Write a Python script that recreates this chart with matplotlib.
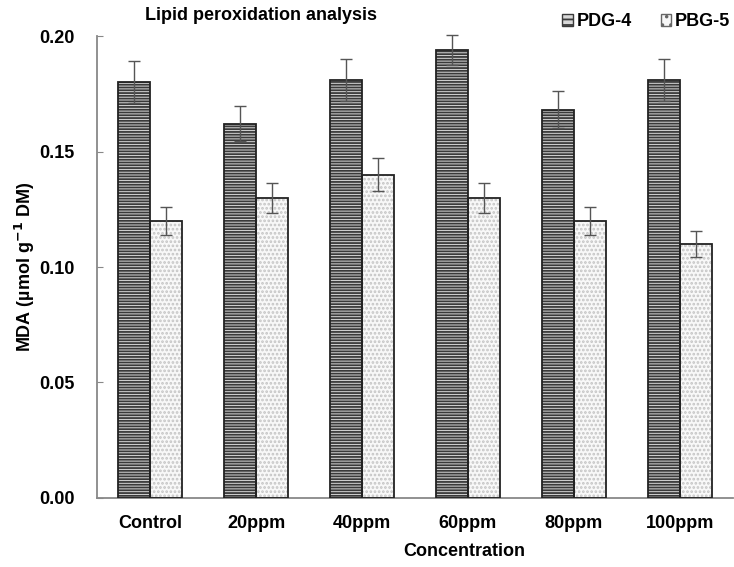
import matplotlib

matplotlib.use("Agg")
import matplotlib.pyplot as plt
import numpy as np
from matplotlib.patches import Patch

plt.rcParams["font.family"] = ["Liberation Sans", "DejaVu Sans"]
plt.rcParams["font.weight"] = "bold"
plt.rcParams["hatch.linewidth"] = 1.3

categories = ["Control", "20ppm", "40ppm", "60ppm", "80ppm", "100ppm"]
pdg4 = [0.180, 0.162, 0.181, 0.194, 0.168, 0.181]
pdg4_err = [0.009, 0.0075, 0.009, 0.0065, 0.008, 0.009]
pbg5 = [0.120, 0.130, 0.140, 0.130, 0.120, 0.110]
pbg5_err = [0.006, 0.0065, 0.007, 0.0065, 0.006, 0.0055]
yticks = [0.00, 0.05, 0.10, 0.15, 0.20]

fig = plt.figure(figsize=(7.34, 5.67), dpi=100)
ax = fig.add_axes([0.1322, 0.1217, 0.8664, 0.8148])

x = np.arange(len(categories))
w = 0.3
# PDG-4: dense horizontal stripes
ax.bar(x - w / 2, pdg4, w, facecolor="#d8d8d8", edgecolor="#3a3a3a", hatch="------",
       linewidth=0, zorder=2)
ax.bar(x - w / 2, pdg4, w, facecolor="none", edgecolor="#222222", linewidth=1.3, zorder=3)
# PBG-5: light dotted fill
ax.bar(x + w / 2, pbg5, w, facecolor="#f8f8f8", edgecolor="#c4c4c4", hatch="....",
       linewidth=0, zorder=2)
ax.bar(x + w / 2, pbg5, w, facecolor="none", edgecolor="#222222", linewidth=1.3, zorder=3)

ax.errorbar(x - w / 2, pdg4, yerr=pdg4_err, fmt="none", ecolor="#555555", elinewidth=1.0,
            capsize=4, capthick=1.0, zorder=4, clip_on=False)
ax.errorbar(x + w / 2, pbg5, yerr=pbg5_err, fmt="none", ecolor="#555555", elinewidth=1.0,
            capsize=4, capthick=1.0, zorder=4, clip_on=False)

ax.set_xlim(-0.5, len(categories) - 0.5)
ax.set_ylim(0, 0.20)
ax.set_yticks(yticks)
ax.set_yticklabels([f"{v:.2f}" for v in yticks], fontsize=13, fontweight="bold")
ax.set_xticks(x)
ax.set_xticklabels(categories, fontsize=13, fontweight="bold")
ax.tick_params(axis="x", length=0, pad=12)
ax.tick_params(axis="y", direction="in", length=4, color="#888888", pad=16)
for s in ["top", "right"]:
    ax.spines[s].set_visible(False)
for s in ["left", "bottom"]:
    ax.spines[s].set_color("#888888")
    ax.spines[s].set_linewidth(1.3)

ax.set_ylabel("MDA (µmol g$^{\\mathbf{-1}}$ DM)", fontsize=13, fontweight="bold", labelpad=1.5)
fig.text(464 / 734, 1 - 552 / 567, "Concentration", fontsize=13, fontweight="bold",
         ha="center", va="center")
fig.text(261 / 734, 1 - 16 / 567, "Lipid peroxidation analysis", fontsize=13,
         fontweight="bold", ha="center", va="center")

handles = [
    Patch(facecolor="#d8d8d8", edgecolor="#3a3a3a", hatch="---", linewidth=1.0),
    Patch(facecolor="#f7f7f7", edgecolor="#666666", hatch="..", linewidth=1.0),
]
fig.legend(handles, ["PDG-4", "PBG-5"], loc="center left", bbox_to_anchor=(562 / 734, 1 - 22 / 567),
           ncol=2, frameon=False, fontsize=13, handlelength=0.6, handleheight=0.6,
           handletextpad=0.2, columnspacing=1.6, borderpad=0, borderaxespad=0)

fig.savefig("out.png", dpi=100)
